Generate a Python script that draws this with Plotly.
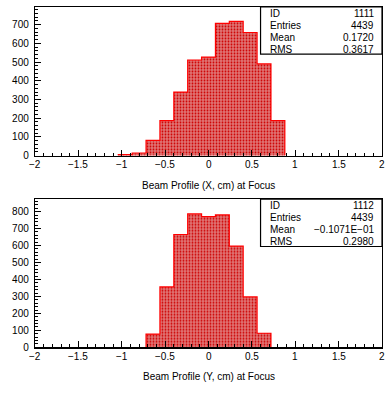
import plotly.graph_objects as go

# ---- data ----
bin_width = 0.16
x_bin_left = [-1.04, -0.88, -0.72, -0.56, -0.40, -0.24, -0.08, 0.08, 0.24, 0.40, 0.56, 0.72]
x_counts = [5, 14, 81, 187, 339, 511, 526, 707, 718, 658, 490, 187]

y_bin_left = [-0.72, -0.56, -0.40, -0.24, -0.08, 0.08, 0.24, 0.40, 0.56]
y_counts = [78, 357, 665, 787, 771, 781, 597, 297, 83]

x_tick_vals = [-2, -1.5, -1, -0.5, 0, 0.5, 1, 1.5, 2]
x_tick_text = ["\u22122", "\u22121.5", "\u22121", "\u22120.5", "0", "0.5", "1", "1.5", "2"]

stats_labels = ["ID", "Entries", "Mean", "RMS"]
stats_x = ["1111", "4439", "0.1720", "0.3617"]
stats_y = ["1112", "4439", "\u22120.1071E\u221201", "0.2980"]

titles = ["Beam Profile (X, cm) at Focus", "Beam Profile (Y, cm) at Focus"]
y_ranges = [795, 873]
y_dticks = [100, 100]

FONT = "Liberation Sans"
FILL = "rgb(224,118,118)"
RED_PAT = "rgb(205,0,0)"
RED_LINE = "#ff0000"

W, H = 392, 395
PX_L, PX_R = 35, 382
panels = [(7, 158), (202.3, 352.7)]  # top,bottom pixel rows of each frame

fig = go.Figure()

datasets = [(x_bin_left, x_counts, stats_x), (y_bin_left, y_counts, stats_y)]
for i, (lefts, counts, stats) in enumerate(datasets):
    xa = "x" if i == 0 else "x2"
    ya = "y" if i == 0 else "y2"
    centers = [l + bin_width / 2 for l in lefts]
    fig.add_trace(go.Bar(
        x=centers, y=counts, width=bin_width, xaxis=xa, yaxis=ya,
        marker=dict(color=FILL, line=dict(width=0),
                    pattern=dict(shape=".", fgcolor=RED_PAT, bgcolor=FILL,
                                 size=3, solidity=0.3, fillmode="replace")),
        showlegend=False, hoverinfo="skip"))
    edges = lefts + [lefts[-1] + bin_width]
    fig.add_trace(go.Scatter(
        x=[edges[0]] + edges, y=[0] + counts + [0], xaxis=xa, yaxis=ya,
        mode="lines", line=dict(color=RED_LINE, width=1.2, shape="hv"),
        showlegend=False, hoverinfo="skip"))

axis_common = dict(showline=True, linecolor="black", linewidth=1.2, mirror=True,
                   showgrid=False, zeroline=False, ticks="inside",
                   tickcolor="black", tickwidth=1,
                   tickfont=dict(family=FONT, size=10, color="black"))

layout = dict(width=W, height=H, margin=dict(l=0, r=0, t=0, b=0),
              paper_bgcolor="white", plot_bgcolor="white", bargap=0,
              font=dict(family=FONT, size=10, color="black"))

annotations = []
shapes = []
for i, (top_px, bot_px) in enumerate(panels):
    sfx = "" if i == 0 else "2"
    ydom = [(H - bot_px) / H, (H - top_px) / H]
    layout["xaxis" + sfx] = dict(axis_common, domain=[PX_L / W, PX_R / W], range=[-2, 2],
                                 anchor="y" + sfx, tickvals=x_tick_vals, showticklabels=False,
                                 ticklen=6,
                                 minor=dict(ticks="inside", dtick=0.1, ticklen=3,
                                            tickcolor="black", tickwidth=1, showgrid=False))
    layout["yaxis" + sfx] = dict(axis_common, domain=ydom, range=[0, y_ranges[i]],
                                 anchor="x" + sfx, dtick=y_dticks[i], ticklen=6,
                                 ticklabelstandoff=3,
                                 minor=dict(ticks="inside", dtick=20, ticklen=3,
                                            tickcolor="black", tickwidth=1, showgrid=False))
    xd = "x" + sfx + " domain"
    yd = "y" + sfx + " domain"
    h_px = bot_px - top_px
    # x tick labels (drawn as text at the tick values)
    for tv, tt in zip(x_tick_vals, x_tick_text):
        annotations.append(dict(xref="x" + sfx, yref="paper", x=tv, y=(H - (bot_px + 9.5)) / H,
                                text=tt, showarrow=False, xanchor="center", yanchor="middle",
                                font=dict(family=FONT, size=10, color="black")))
    # stats box
    shapes.append(dict(type="rect", xref=xd, yref=yd, x0=0.65, x1=1.0,
                       y0=1 - 48 / h_px, y1=1.0, fillcolor="white",
                       line=dict(color="black", width=1.2), layer="above"))
    stats_vals = stats_x if i == 0 else stats_y
    for r, (lab, val) in enumerate(zip(stats_labels, stats_vals)):
        yy = 1 - (6.3 + 12.2 * r) / h_px
        annotations.append(dict(xref=xd, yref=yd, x=0.671, y=yy, text=lab,
                                showarrow=False, xanchor="left", yanchor="middle",
                                font=dict(family=FONT, size=10, color="black")))
        annotations.append(dict(xref=xd, yref=yd, x=0.982, y=yy, text=val,
                                showarrow=False, xanchor="right", yanchor="middle",
                                font=dict(family=FONT, size=10, color="black")))
    # x-axis title
    annotations.append(dict(xref="paper", yref="paper", x=(PX_L + PX_R) / 2 / W,
                            y=(H - (bot_px + 30)) / H, text=titles[i], showarrow=False,
                            xanchor="center", yanchor="middle",
                            font=dict(family=FONT, size=10, color="black")))

layout["annotations"] = annotations
layout["shapes"] = shapes
fig.update_layout(**layout)
fig.write_html("out.html",
               config={"displayModeBar": False, "staticPlot": True},
               post_script="document.body.style.margin='0px';document.body.style.overflow='hidden';")
